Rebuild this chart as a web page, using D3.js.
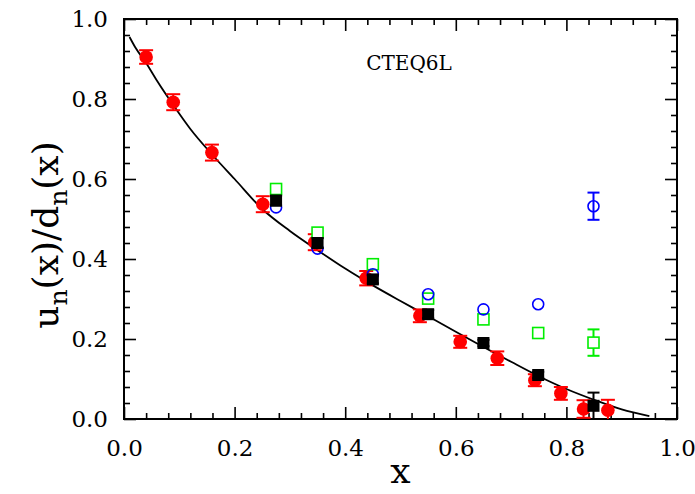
<!DOCTYPE html>
<html>
<head>
<meta charset="utf-8">
<script src="https://cdn.jsdelivr.net/npm/d3@7"></script>
<style>
  html, body { margin: 0; padding: 0; background: #fff; }
  svg { display: block; font-family: "DejaVu Serif", serif; }
</style>
</head>
<body>
<svg id="chart" width="695" height="494"></svg>
<script>
// data: [x, value, error]
const redData = [
    [0.040, 0.905, 0.017], [0.089, 0.792, 0.020], [0.159, 0.666, 0.020],
    [0.251, 0.537, 0.020], [0.345, 0.442, 0.020], [0.438, 0.352, 0.018],
    [0.535, 0.258, 0.016], [0.608, 0.193, 0.015], [0.675, 0.152, 0.017],
    [0.743, 0.097, 0.015], [0.790, 0.064, 0.016], [0.831, 0.025, 0.022],
    [0.875, 0.022, 0.026]
];
const blackData = [
    [0.275, 0.546, 0.012], [0.350, 0.440, 0.012], [0.450, 0.349, 0.010],
    [0.550, 0.262, 0.010], [0.650, 0.190, 0.008], [0.749, 0.110, 0.008],
    [0.849, 0.033, 0.033]
];
const greenData = [
    [0.275, 0.575, 0], [0.350, 0.466, 0], [0.450, 0.387, 0],
    [0.550, 0.301, 0], [0.650, 0.249, 0], [0.749, 0.215, 0],
    [0.849, 0.191, 0.033]
];
const blueData = [
    [0.275, 0.529, 0], [0.350, 0.426, 0], [0.450, 0.362, 0],
    [0.550, 0.312, 0], [0.650, 0.274, 0], [0.749, 0.287, 0],
    [0.849, 0.532, 0.034]
];
// CTEQ6L curve, read point by point
const curveData = [
    [0.01, 0.955], [0.02, 0.930], [0.04, 0.890], [0.06, 0.845], [0.09, 0.783],
    [0.12, 0.725], [0.16, 0.660], [0.20, 0.600], [0.25, 0.525], [0.30, 0.470],
    [0.35, 0.422], [0.40, 0.376], [0.45, 0.334], [0.50, 0.295], [0.55, 0.257],
    [0.60, 0.218], [0.65, 0.180], [0.70, 0.143], [0.75, 0.107], [0.80, 0.075],
    [0.85, 0.048], [0.90, 0.024], [0.95, 0.007]
];
const tickValues = [0, 0.2, 0.4, 0.6, 0.8, 1.0];
const curveLabel = "CTEQ6L";

const m = { top: 19, left: 124 };
const W = 553, H = 400;

const svg = d3.select("#chart");
const g = svg.append("g").attr("transform", `translate(${m.left},${m.top})`);

const x = d3.scaleLinear().domain([0, 1]).range([0, W]);
const y = d3.scaleLinear().domain([0, 1]).range([H, 0]);

const minor = d3.range(0, 26).map(i => i * 0.04).filter(v => Math.abs(v * 5 - Math.round(v * 5)) > 1e-6);
const fmt = d3.format(".1f");

// axes with inward ticks on all four sides
function axisPair(axisFn, scale, transform, pad) {
    const major = g.append("g").attr("transform", transform)
        .call(axisFn(scale).tickValues(tickValues).tickSize(-12)
            .tickFormat(pad ? fmt : "").tickPadding(pad || 0));
    g.append("g").attr("transform", transform)
        .call(axisFn(scale).tickValues(minor).tickSize(-6).tickFormat(""));
    return major;
}
axisPair(d3.axisBottom, x, `translate(0,${H})`, 21);
axisPair(d3.axisTop, x, "translate(0,0)", 0);
const yl = axisPair(d3.axisLeft, y, "translate(0,0)", 26);
axisPair(d3.axisRight, y, `translate(${W},0)`, 0);

g.selectAll(".domain").remove();
g.selectAll(".tick line").attr("stroke", "#000").attr("stroke-width", 1.6);
g.selectAll(".tick text").attr("font-family", "DejaVu Serif").attr("font-size", 23).attr("fill", "#000");
yl.selectAll(".tick text").attr("dx", 10);

g.append("rect").attr("width", W).attr("height", H)
    .attr("fill", "none").attr("stroke", "#000").attr("stroke-width", 2);

// curve
const line = d3.line().x(d => x(d[0])).y(d => y(d[1])).curve(d3.curveMonotoneX);
g.append("path").datum(curveData).attr("d", line)
    .attr("fill", "none").attr("stroke", "#000").attr("stroke-width", 1.8);

// error bars
function errorBars(data, color, cap) {
    const eb = g.append("g").selectAll("g").data(data.filter(d => d[2] > 0)).join("g")
        .attr("stroke", color).attr("stroke-width", 2);
    eb.append("line")
        .attr("x1", d => x(d[0])).attr("x2", d => x(d[0]))
        .attr("y1", d => y(Math.min(1, d[1] + d[2]))).attr("y2", d => y(Math.max(0, d[1] - d[2])));
    eb.append("line")
        .attr("x1", d => x(d[0]) - cap).attr("x2", d => x(d[0]) + cap)
        .attr("y1", d => y(d[1] + d[2])).attr("y2", d => y(d[1] + d[2]));
    eb.filter(d => d[1] - d[2] > 0).append("line")
        .attr("x1", d => x(d[0]) - cap).attr("x2", d => x(d[0]) + cap)
        .attr("y1", d => y(d[1] - d[2])).attr("y2", d => y(d[1] - d[2]));
}

// red circles
errorBars(redData, "#ff0000", 7);
g.append("g").selectAll("circle").data(redData).join("circle")
    .attr("cx", d => x(d[0])).attr("cy", d => y(d[1])).attr("r", 6.8)
    .attr("fill", "#ff0000");

// green open squares
errorBars(greenData, "#00ee00", 6);
g.append("g").selectAll("rect").data(greenData).join("rect")
    .attr("x", d => x(d[0]) - 5.5).attr("y", d => y(d[1]) - 5.5)
    .attr("width", 11).attr("height", 11)
    .attr("fill", "#fff").attr("stroke", "#00ee00").attr("stroke-width", 1.6);

// blue open circles
errorBars(blueData, "#0000ff", 6);
g.append("g").selectAll("circle").data(blueData).join("circle")
    .attr("cx", d => x(d[0])).attr("cy", d => y(d[1])).attr("r", 5.5)
    .attr("fill", "none").attr("stroke", "#0000ff").attr("stroke-width", 1.6);

// black squares
errorBars(blackData, "#000", 6);
g.append("g").selectAll("rect").data(blackData).join("rect")
    .attr("x", d => x(d[0]) - 6).attr("y", d => y(d[1]) - 6)
    .attr("width", 12).attr("height", 12).attr("fill", "#000");

// labels
g.append("text").attr("x", 285).attr("y", 51).attr("text-anchor", "middle")
    .attr("font-size", 20).text(curveLabel);

svg.append("text").attr("x", m.left + W / 2).attr("y", 483).attr("text-anchor", "middle")
    .attr("font-size", 36).text("x");

const yt = svg.append("text")
    .attr("transform", `translate(58,${m.top + H / 2 + 16}) rotate(-90)`)
    .attr("text-anchor", "middle").attr("font-size", 36);
yt.append("tspan").text("u");
yt.append("tspan").attr("font-size", 25).attr("dy", 9).text("n");
yt.append("tspan").attr("dy", -9).text("(x)/d");
yt.append("tspan").attr("font-size", 25).attr("dy", 9).text("n");
yt.append("tspan").attr("dy", -9).text("(x)");
</script>
</body>
</html>
